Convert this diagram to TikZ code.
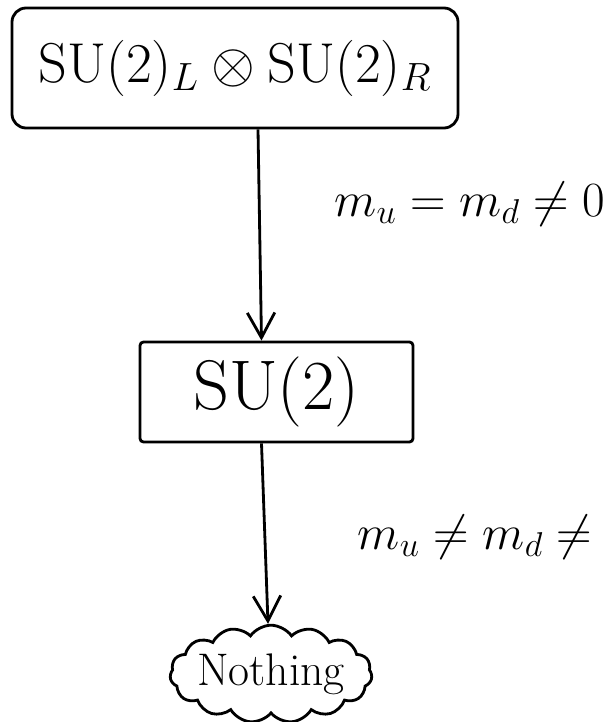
\RequirePackage{fix-cm}
\documentclass[tikz,border=0pt]{standalone}
\usepackage{amsmath,amssymb}
\usepackage{tikz}
\usetikzlibrary{arrows.meta,shapes.symbols}

\begin{document}
\begin{tikzpicture}[line width=1.6pt,
  groupbox/.style={draw, rectangle, inner sep=0pt},
  flow/.style={-{Straight Barb[length=5mm,width=5.5mm,line width=1.6pt]}},
  masslabel/.style={font=\fontsize{28}{33}\selectfont}]
\useasboundingbox (0,0) rectangle (12.2,-14.44);

% --- symmetry groups ---
\node[groupbox, rounded corners=8pt, minimum width=8.92cm, minimum height=2.4cm,
      font=\fontsize{32}{38}\selectfont] (chiral) at (4.7,-1.36)
      {$\mathrm{SU}(2)_L \otimes \mathrm{SU}(2)_R$};
\node[groupbox, rounded corners=2pt, minimum width=5.46cm, minimum height=2.0cm,
      font=\fontsize{40}{46}\selectfont] (isospin) at (5.53,-7.84)
      {$\mathrm{SU}(2)$};
\node[draw, cloud, cloud puffs=15, cloud puff arc=110, aspect=2.4,
      minimum width=4.04cm, minimum height=1.76cm, inner sep=-4pt,
      font=\fontsize{26}{30}\selectfont] (none) at (5.42,-13.48) {Nothing};

% --- breaking steps ---
\draw[flow] ([xshift=0.46cm]chiral.south) -- ([xshift=-0.3cm]isospin.north);
\draw[flow] ([xshift=-0.3cm]isospin.south) -- ([xshift=-0.06cm]none.north);

\node[masslabel] (lblA) at (9.4,-4.08) {$m_u = m_d \neq 0$};
\node[masslabel] (lblB) at (9.5,-10.74) {$m_u \neq m_d \neq$};

\end{tikzpicture}
\end{document}
